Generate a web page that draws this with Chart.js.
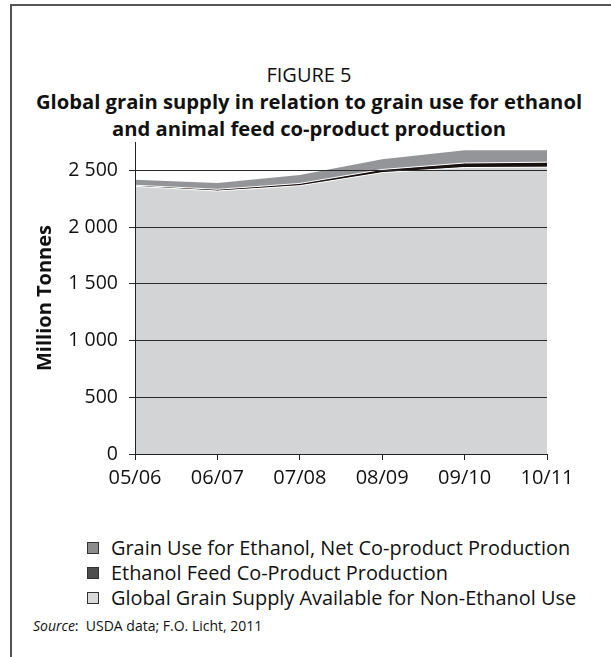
<!DOCTYPE html>
<html>
<head>
<meta charset="utf-8">
<script src="https://cdn.jsdelivr.net/npm/chart.js@4"></script>
<style>
  html, body { margin: 0; padding: 0; background: #fff; }
  body { width: 611px; height: 657px; position: relative; overflow: hidden; font-family: "Open Sans", "Noto Sans", sans-serif; color: #111; }
  #frame { position: absolute; left: 10px; top: 4px; width: 620px; height: 700px; border-left: 2px solid #555; border-top: 2px solid #555; }
  #title { position: absolute; left: 10px; width: 598px; top: 61px; text-align: center; }
  #title .fig { font-size: 20px; line-height: 27px; }
  #title .main { font-size: 20.2px; font-weight: bold; line-height: 27px; letter-spacing: 0px; }
  #wrap { position: absolute; left: 0; top: 130px; width: 611px; height: 370px; }
  #legend { position: absolute; left: 87px; top: 535px; font-size: 19.9px; }
  #legend .item { height: 25px; display: flex; align-items: center; white-space: nowrap; }
  #legend .box { width: 10px; height: 10px; border: 1px solid #333; margin-right: 12px; flex: none; }
  #source { position: absolute; left: 33px; top: 616px; font-size: 14px; }
</style>
</head>
<body>
<div id="frame"></div>
<div id="title">
  <div class="fig">FIGURE 5</div>
  <div class="main">Global grain supply in relation to grain use for ethanol<br>and animal feed co-product production</div>
</div>
<div id="wrap"><canvas id="c" width="611" height="370"></canvas></div>
<div id="legend"></div>
<div id="source"><i>Source</i>:&nbsp; USDA data; F.O. Licht, 2011</div>
<script>
const categories = ["05/06", "06/07", "07/08", "08/09", "09/10", "10/11"];
const nonEthanolSupply = [2359, 2318, 2365, 2480, 2525, 2528];
const coProductFeed = [10, 15, 20, 28, 40, 44];
const ethanolNetUse = [49, 55, 74, 89, 112, 105];
const yTicks = [0, 500, 1000, 1500, 2000, 2500];

const fmt = v => String(v).replace(/\B(?=(\d{3})+(?!\d))/g, " ");

const chart = new Chart(document.getElementById("c"), {
  type: "line",
  data: {
    labels: categories,
    datasets: [
      { label: "Global Grain Supply Available for Non-Ethanol Use", data: nonEthanolSupply,
        backgroundColor: "#d3d4d6", borderColor: "#ffffff", borderWidth: 1, fill: "origin",
        pointRadius: 0, tension: 0, legendColor: "#d9d9d9" },
      { label: "Ethanol Feed Co-Product Production", data: coProductFeed,
        backgroundColor: "#180f0f", borderColor: "#ffffff", borderWidth: 1, fill: "-1",
        pointRadius: 0, tension: 0, legendColor: "#4d4d4d" },
      { label: "Grain Use for Ethanol, Net Co-product Production", data: ethanolNetUse,
        backgroundColor: "#939598", borderColor: "#939598", borderWidth: 0, fill: "-1",
        pointRadius: 0, tension: 0, legendColor: "#8c8c8c" }
    ]
  },
  options: {
    animation: false,
    responsive: false,
    devicePixelRatio: 1,
    layout: { padding: { top: 12, right: 64, bottom: 0, left: 0 } },
    plugins: { legend: { display: false }, tooltip: { enabled: false } },
    scales: {
      x: {
        offset: false,
        grid: { display: true, drawOnChartArea: false, drawTicks: true, tickLength: 6, color: "#222" },
        border: { display: true, color: "#222", width: 1, z: 2 },
        ticks: { color: "#111", font: { family: "Open Sans", size: 20 }, padding: 6, maxRotation: 0, autoSkip: false },
        afterFit: s => { s.height = 46; s.paddingLeft = 0; s.paddingRight = 0; }
      },
      y: {
        stacked: true,
        min: 0, max: 2750,
        grid: { drawOnChartArea: true, drawTicks: true, tickLength: 6, color: "#2a2a2a", lineWidth: 1, z: 1 },
        border: { display: true, color: "#222", width: 1, z: 2 },
        ticks: { autoSkip: false, color: "#111", padding: 11,
                 font: { family: "Open Sans", size: 19.5 },
                 callback: v => fmt(v) },
        afterBuildTicks: s => { s.ticks = yTicks.map(v => ({ value: v })); },
        title: { display: true, text: "Million Tonnes", color: "#111",
                 font: { family: "Open Sans", size: 20, weight: "bold" }, padding: { top: 33, bottom: 0 } },
        afterFit: s => { s.width = 135; s.paddingTop = 0; s.paddingBottom = 0; }
      }
    }
  }
});

// legend built from chart datasets (top-to-bottom order as in reference)
const lg = document.getElementById("legend");
chart.data.datasets.slice().reverse().forEach(ds => {
  const it = document.createElement("div");
  it.className = "item";
  const b = document.createElement("span");
  b.className = "box";
  b.style.background = ds.legendColor;
  const t = document.createElement("span");
  t.textContent = ds.label;
  it.appendChild(b); it.appendChild(t);
  lg.appendChild(it);
});
</script>
</body>
</html>
